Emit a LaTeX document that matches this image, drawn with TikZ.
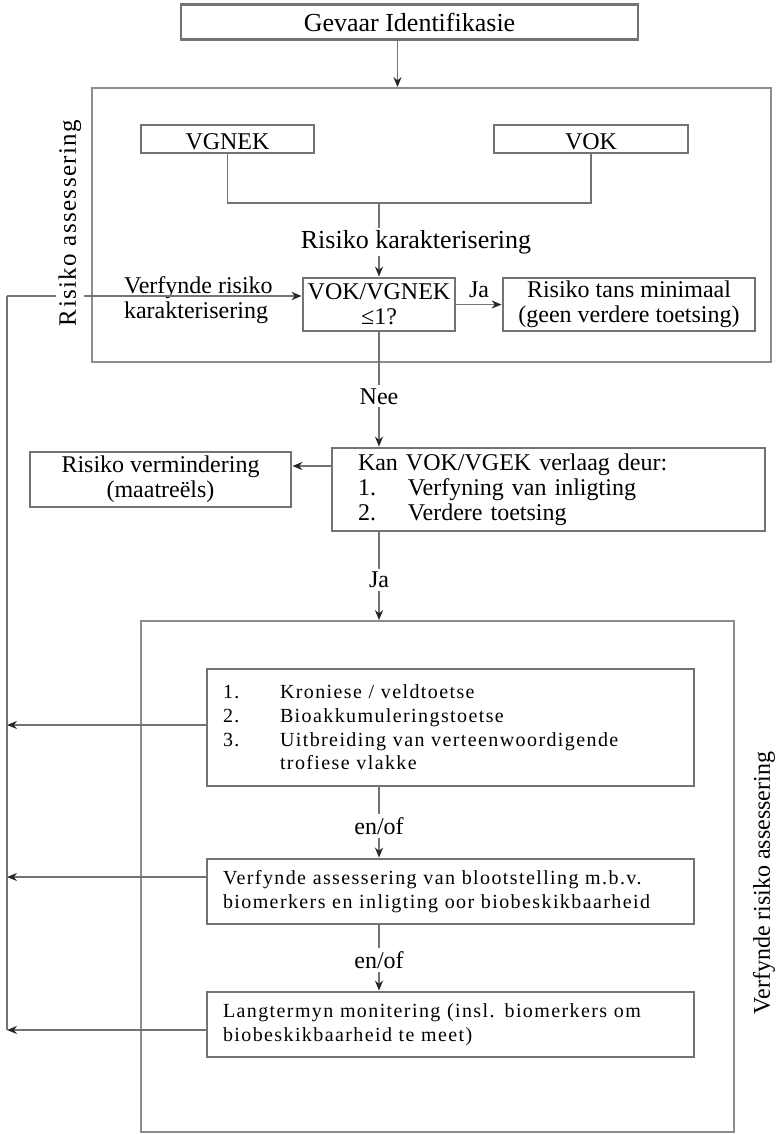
\documentclass[tikz,border=0pt]{standalone}
\usepackage{fontspec}
\setmainfont{Liberation Serif}
\usepackage{tikz}
\usetikzlibrary{arrows.meta}
\newcommand{\listfont}{\fontsize{10}{11.8}\selectfont\addfontfeatures{LetterSpace=7}}
\newcommand{\sidefont}{\fontsize{12.5}{14}\selectfont\addfontfeatures{LetterSpace=5.5}}

\begin{document}
\begin{tikzpicture}[x=0.5pt, y=-0.5pt, >={Stealth[length=5pt, width=4pt, color=black!85]},
        every node/.style={font=\fontsize{12}{12.5}\selectfont},
        box/.style={draw=black!55, line width=1.4pt, fill=white, align=center, inner sep=1pt},
        frame/.style={draw=black!45, line width=0.9pt},
        listbox/.style={box, align=left, inner xsep=8pt, inner ysep=0pt, font=\listfont},
        edge/.style={draw=black!55, line width=0.8pt},
        lbl/.style={fill=white, inner sep=1.5pt}]
        \useasboundingbox (0,0) rectangle (780,1134);

        % Nodes
        \node[box, minimum width=228.5pt, minimum height=17.5pt, font=\fontsize{13}{14}\selectfont] (ident) at (409.5, 22) {Gevaar Identifikasie};
        \node[frame, minimum width=339.5pt, minimum height=137pt] (assess) at (431.5, 225) {};
        \node[box, minimum width=86.5pt, minimum height=14pt, text height=11pt, text depth=0pt] (vgnek) at (227.5, 139) {VGNEK};
        \node[box, minimum width=97pt, minimum height=14pt, text height=11pt, text depth=0pt] (vok) at (591, 139) {VOK};
        \coordinate (join) at (379, 203);
        \node[box, minimum width=76pt, minimum height=26.5pt] (ratio) at (379, 304.5) {VOK/VGNEK\\≤1?};
        \node[box, minimum width=126pt, minimum height=26.5pt] (minimal) at (629, 304.5) {Risiko tans minimaal\\(geen verdere toetsing)};
        \node[align=left, anchor=west] (vrk) at (117, 300) {Verfynde risiko\\karakterisering};
        \node[box, align=left, text width=190.5pt, inner xsep=13pt, minimum height=41.5pt] (kan) at (548.5, 489.5)
            {Kan VOK/VGEK verlaag deur:\\\makebox[25pt][l]{1.}Verfyning van inligting\\\makebox[25pt][l]{2.}Verdere toetsing};
        \node[box, minimum width=130.5pt, minimum height=27.5pt] (mitig) at (160.5, 479.5) {Risiko vermindering\\(maatreëls)};
        \node[frame, minimum width=296.5pt, minimum height=255.5pt] (refine) at (437.5, 876.5) {};
        \node[listbox, text width=227.5pt, minimum height=58.5pt] (boxA) at (450.5, 727.5)
            {\makebox[28.5pt][l]{1.}Kroniese / veldtoetse\\\makebox[28.5pt][l]{2.}Bioakkumuleringstoetse\\\makebox[28.5pt][l]{3.}Uitbreiding van verteenwoordigende\\\hspace*{28.5pt}trofiese vlakke};
        \node[listbox, text width=227.5pt, minimum height=32.5pt] (boxB) at (450.5, 891.5)
            {Verfynde assessering van blootstelling m.b.v.\\biomerkers en inligting oor biobeskikbaarheid};
        \node[listbox, text width=227.5pt, minimum height=32.5pt] (boxC) at (450.5, 1024.5)
            {Langtermyn monitering (insl. biomerkers om\\biobeskikbaarheid te meet)};

        % Feedback line
        \coordinate (loopTop) at (7, 296);
        \coordinate (fbA) at (7, 725);
        \coordinate (fbB) at (7, 877);
        \coordinate (fbC) at (7, 1030);

        % Directed edges
        \draw[edge, ->] ([xshift=-6pt]ident.south) -- ([xshift=-6pt]ident.south |- assess.north);
        \draw[edge] (vgnek.south) |- (join) -| (vok.south);
        \draw[edge, ->] (join) -- (ratio.north);
        \draw[edge, ->] (ratio.east) -- node[midway, above, inner sep=3pt] {Ja} (minimal.west);
        \draw[edge, ->] (ratio.south) -- node[lbl, pos=0.56] {Nee} (ratio.south |- kan.north);
        \draw[edge, ->] ([yshift=11.75pt]kan.west) -- ([yshift=11.75pt]kan.west -| mitig.east);
        \draw[edge, ->] (ratio.south |- kan.south) -- node[lbl, pos=0.54] {Ja} (ratio.south |- refine.north);
        \draw[edge, ->] (ratio.south |- boxA.south) -- node[lbl, pos=0.55] {en/of} (ratio.south |- boxB.north);
        \draw[edge, ->] (ratio.south |- boxB.south) -- node[lbl, pos=0.53] {en/of} (ratio.south |- boxC.north);
        \draw[edge] (fbC) -- (loopTop);
        \draw[edge, ->] (loopTop) -- (ratio.west |- loopTop);
        \draw[edge, ->] (boxA.west |- fbA) -- (fbA);
        \draw[edge, ->] (boxB.west |- fbB) -- (fbB);
        \draw[edge, ->] (boxC.west |- fbC) -- (fbC);

        % Labels over the lines
        \node[lbl, inner sep=1pt, font=\fontsize{13}{14}\selectfont] (rk) at (416, 242) {Risiko karakterisering};
        \node[lbl, rotate=90, font=\sidefont] (sideAssess) at (70, 223) {Risiko assessering};
        \node[rotate=90] (sideRefine) at (764, 883) {Verfynde risiko assessering};
\end{tikzpicture}
\end{document}
